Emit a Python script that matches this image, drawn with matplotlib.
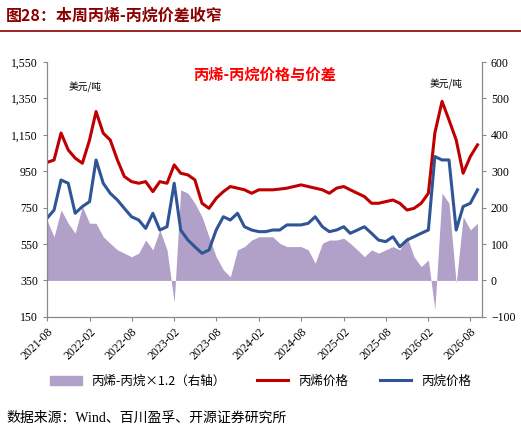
import matplotlib
matplotlib.use("Agg")
import matplotlib.pyplot as plt
import matplotlib.dates as mdates
from matplotlib.patches import Patch
from matplotlib.lines import Line2D
import pandas as pd

plt.rcParams['font.family'] = ['Liberation Serif', 'Noto Sans CJK SC']

months = pd.date_range("2021-08-01", "2026-09-01", freq="MS")
propylene = [998,1012,1160,1067,1022,994,1122,1278,1159,1122,1012,921,893,884,893,838,893,884,
             985,939,930,903,774,746,801,838,866,857,848,829,848,848,848,852,857,866,875,866,857,
             848,829,857,866,848,829,811,774,774,783,792,774,737,746,774,829,1160,1334,1232,1122,939,1031,1095]
propane = [691,737,902,884,719,756,783,1012,884,829,792,746,700,682,636,719,627,645,
           884,627,572,535,499,517,627,700,682,719,645,627,618,618,627,627,655,655,655,664,700,
           645,618,627,645,609,627,645,609,572,563,590,535,572,590,609,627,1031,1012,1012,627,756,774,848]
spread = [166,120,194,157,130,203,157,157,120,102,84,75,65,75,111,84,139,84,
          -60,249,240,212,175,120,65,29,10,84,93,111,120,120,120,102,93,93,93,84,47,
          102,111,111,116,102,84,65,84,75,84,93,84,120,65,38,56,-80,240,212,-8,175,139,157]

fig = plt.figure(figsize=(5.21, 4.37), dpi=100)
ax = fig.add_axes([0.090, 0.275, 0.835, 0.583])
ax2 = ax.twinx()
ax.set_zorder(2); ax.patch.set_visible(False)

ax2.fill_between(months, 0, spread, color="#B1A0C7", lw=0)
ax2.set_ylim(-100, 600)
ax2.set_yticks(range(-100, 601, 100))
ax.plot(months, propylene, color="#C00000", lw=2.2)
ax.plot(months, propane, color="#2F5597", lw=2.2)
ax.set_ylim(150, 1550)
ax.set_yticks(range(150, 1551, 200))
ax.set_yticklabels([f"{v:,}" for v in range(150, 1551, 200)])
ax.set_xlim(pd.Timestamp("2021-08-01"), pd.Timestamp("2026-09-20"))
ax.xaxis.set_major_locator(mdates.MonthLocator(bymonth=[2, 8]))
ax.xaxis.set_major_formatter(mdates.DateFormatter("%Y-%m"))
for lab in ax.get_xticklabels():
    lab.set_rotation(45); lab.set_ha("right"); lab.set_rotation_mode("anchor")
for a in (ax, ax2):
    a.tick_params(labelsize=8.5, direction="out", length=3, color="#888888")
    for s in a.spines.values():
        s.set_color("#888888")
ax.spines['top'].set_visible(False); ax2.spines['top'].set_visible(False)

ax.text(0.5, 0.95, "丙烯-丙烷价格与价差", transform=ax.transAxes, ha="center", va="center",
        color="#FF0000", fontsize=11, fontweight="bold", family="Noto Sans CJK SC")
ax.text(0.05, 0.89, "美元/吨", transform=ax.transAxes, fontsize=7, family="Noto Sans CJK SC")
ax.text(0.88, 0.90, "美元/吨", transform=ax.transAxes, fontsize=7, family="Noto Sans CJK SC")

fig.text(0.012, 0.965, "图28：本周丙烯-丙烷价差收窄", color="#8B0000", fontsize=11.5,
         fontweight="bold", family="Noto Sans CJK SC", va="center")
fig.add_artist(Line2D([0.0, 1.0], [0.93, 0.93], color="#8B0000", lw=1.2))

handles = [Patch(color="#B1A0C7"), Line2D([], [], color="#C00000", lw=2.2),
           Line2D([], [], color="#2F5597", lw=2.2)]
labels = ["丙烯-丙烷×1.2（右轴）", "丙烯价格", "丙烷价格"]
fig.legend(handles, labels, loc="center", bbox_to_anchor=(0.5, 0.128), ncol=3, frameon=False,
           prop={"family": ["Noto Sans CJK SC"], "size": 9}, handlelength=2.5, columnspacing=2.5)
fig.text(0.012, 0.043, "数据来源：Wind、百川盈孚、开源证券研究所", fontsize=10,
         family=["Liberation Serif", "Noto Sans CJK SC"], va="center")
fig.savefig("out.png", dpi=100)
